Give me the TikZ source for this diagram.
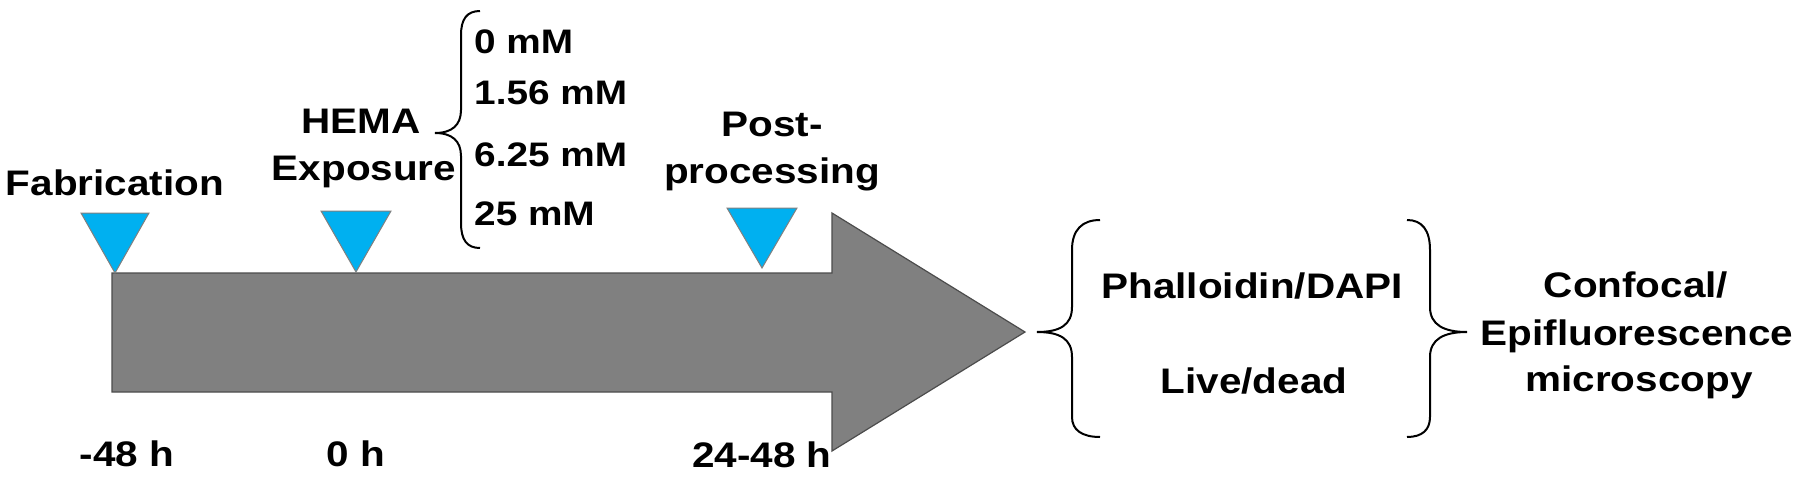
\documentclass[tikz,border=0pt]{standalone}
\usepackage{fontspec}
\setmainfont[FakeStretch=1.14]{Liberation Sans}
\definecolor{tri}{HTML}{00B0F0}
\definecolor{arrowgray}{HTML}{808080}
\begin{document}
\begin{tikzpicture}[x=1pt,y=-1pt,
  lbl/.style={font=\fontsize{35.5}{42}\selectfont\bfseries, inner sep=0pt, anchor=base},
  conc/.style={font=\fontsize{34}{40}\selectfont\bfseries, inner sep=0pt, anchor=base west},
  marker/.style={fill=tri, draw=gray, line width=1pt, line join=miter},
  bigarrow/.style={fill=arrowgray, draw=black!70, line width=1.2pt, line join=miter},
  brace/.style={draw=black, line width=2pt}]
\useasboundingbox (0,0) rectangle (1800,479);
% main arrow
\draw[bigarrow] (112,273) -- (832,273) -- (832,213) -- (1025,332) -- (832,451) -- (832,392) -- (112,392) -- cycle;
% markers
\draw[marker] (81,213) -- (149,213) -- (115,273) -- cycle;
\draw[marker] (321,211) -- (391,211) -- (356,272) -- cycle;
\draw[marker] (727,208) -- (797,208) -- (762,268) -- cycle;
% labels above
\node[lbl] (fab) at (115,195) {Fabrication};
\node[lbl] (hema) at (361,133) {HEMA};
\node[lbl] (expo) at (364,180) {Exposure};
\node[lbl] (post) at (772,136) {Post-};
\node[lbl] (proc) at (772,183) {processing};
% time labels
\node[lbl] (t1) at (127,466) {-48 h};
\node[lbl] (t2) at (356,466) {0 h};
\node[lbl] (t3) at (762,467) {24-48 h};
% concentrations
\node[conc] (c1) at (474,53) {0 mM};
\node[conc] (c2) at (474,104) {1.56 mM};
\node[conc] (c3) at (474,166) {6.25 mM};
\node[conc] (c4) at (474,225) {25 mM};
\draw[brace] (480,11) .. controls (467,11) and (461,19) .. (461,35) -- (461,110)
  .. controls (461,125) and (452,133) .. (435,133)
  .. controls (452,133) and (461,141) .. (461,156) -- (461,223)
  .. controls (461,240) and (467,248) .. (480,248);
% right part
\node[lbl] (phal) at (1252,298) {Phalloidin/DAPI};
\node[lbl] (live) at (1254,393) {Live/dead};
\node[lbl] (conf) at (1636,297) {Confocal/};
\node[lbl] (epi) at (1637,345) {Epifluorescence};
\node[lbl] (micro) at (1639,391) {microscopy};
\draw[brace] (1100,220) .. controls (1082,220) and (1072,230) .. (1072,250) -- (1072,307)
  .. controls (1072,325) and (1060,332) .. (1037,332)
  .. controls (1060,332) and (1072,339) .. (1072,357) -- (1072,417)
  .. controls (1072,430) and (1082,437) .. (1100,437);
\draw[brace] (1407,220) .. controls (1422,220) and (1430,230) .. (1430,250) -- (1430,307)
  .. controls (1430,325) and (1444,332) .. (1467,332)
  .. controls (1444,332) and (1430,339) .. (1430,357) -- (1430,417)
  .. controls (1430,430) and (1422,437) .. (1407,437);
\end{tikzpicture}
\end{document}
